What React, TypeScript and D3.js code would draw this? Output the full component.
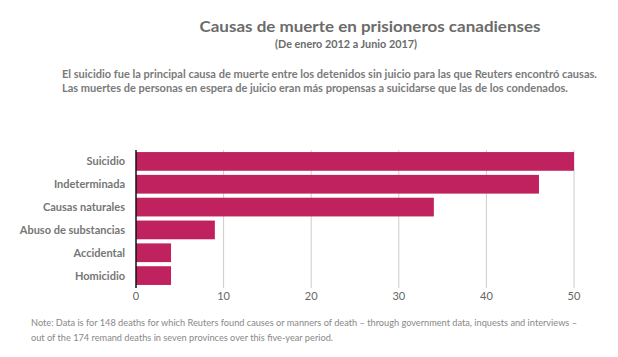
import React from "react";
import * as d3 from "d3";

const categories = ["Suicidio", "Indeterminada", "Causas naturales", "Abuso de substancias", "Accidental", "Homicidio"];
const values = [50, 46, 34, 9, 4, 4];
const tickValues = [0, 10, 20, 30, 40, 50];
const title = "Causas de muerte en prisioneros canadienses";
const subtitle = "(De enero 2012 a Junio 2017)";
const descLines = [
  "El suicidio fue la principal causa de muerte entre los detenidos sin juicio para las que Reuters encontró causas.",
  "Las muertes de personas en espera de juicio eran más propensas a suicidarse que las de los condenados.",
];
const noteLines = [
  "Note: Data is for 148 deaths for which Reuters found causes or manners of death – through government data, inquests and interviews –",
  "out of the 174 remand deaths in seven provinces over this five-year period.",
];

const W = 618;
const H = 357;
const font = "Lato, 'Open Sans', sans-serif";

export default function App() {
  const x = d3.scaleLinear().domain([0, 50]).range([136, 574]);
  const y = d3
    .scaleBand<string>()
    .domain(categories)
    .range([150, 287])
    .paddingInner(0.18)
    .paddingOuter(0.09);
  const [y0, y1] = y.range();

  return (
    <svg
      width={W}
      height={H}
      style={{ position: "absolute", left: 0, top: 0, background: "#fff" }}
      fontFamily={font}
    >
      <text x={370} y={32} textAnchor="middle" fontSize={16} fontWeight="bold" fill="#6b6b6b" textLength={341} lengthAdjust="spacingAndGlyphs">
        {title}
      </text>
      <text x={346} y={48} textAnchor="middle" fontSize={11} fontWeight="bold" fill="#6b6b6b" textLength={142} lengthAdjust="spacingAndGlyphs">
        {subtitle}
      </text>
      {descLines.map((l, i) => (
        <text key={i} x={62} y={78 + i * 14} fontSize={11} fontWeight="bold" fill="#7a7a7a" textLength={i === 0 ? 535 : 506} lengthAdjust="spacingAndGlyphs">
          {l}
        </text>
      ))}

      {tickValues.slice(1).map((t) => (
        <line key={t} x1={x(t)} x2={x(t)} y1={y0} y2={y1 + 1} stroke="#cccccc" strokeWidth={1} />
      ))}

      {categories.map((c, i) => (
        <rect key={c} x={x(0)} y={y(c)} width={x(values[i]) - x(0)} height={y.bandwidth()} fill="#c0215f" />
      ))}

      <line x1={x(0)} x2={x(0)} y1={y0} y2={y1 + 1} stroke="#111" strokeWidth={1.5} />

      {categories.map((c) => (
        <text key={c} x={125} y={(y(c) ?? 0) + y.bandwidth() / 2 + 4} textAnchor="end" fontSize={11} fontWeight="bold" fill="#767676">
          {c}
        </text>
      ))}

      {tickValues.map((t) => (
        <text key={t} x={x(t)} y={300} textAnchor="middle" fontSize={11} fill="#666">
          {t}
        </text>
      ))}

      {noteLines.map((l, i) => (
        <text key={i} x={31} y={326 + i * 15} fontSize={9} fill="#888" textLength={i === 0 ? 546 : 302} lengthAdjust="spacingAndGlyphs">
          {l}
        </text>
      ))}
    </svg>
  );
}
